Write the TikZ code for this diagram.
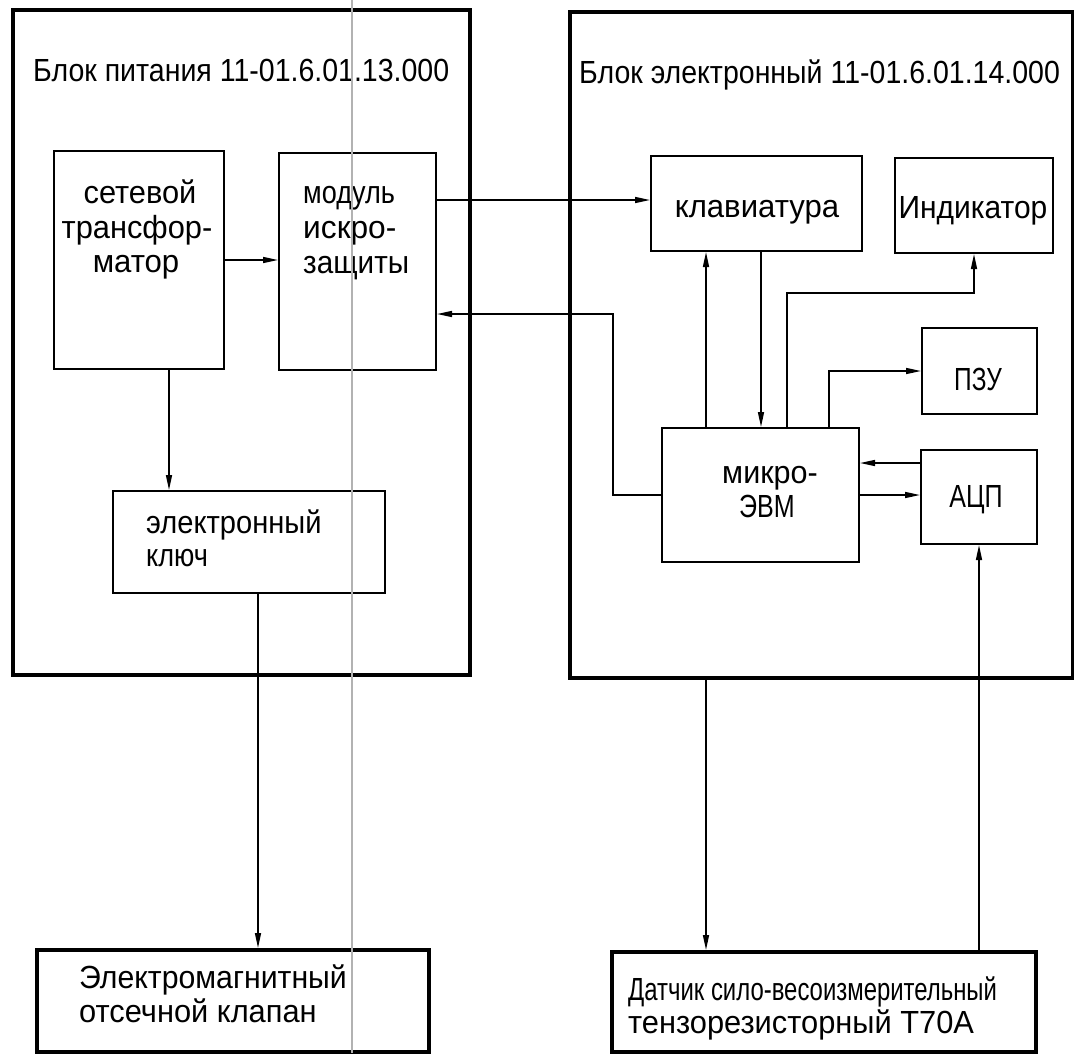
\documentclass[tikz,border=0pt]{standalone}
\usepackage{graphicx}
\usepackage{fontspec}
\setmainfont{Liberation Sans}[FakeStretch=0.9]
\usetikzlibrary{arrows.meta}
\newcommand{\hsc}[2]{\scalebox{#1}[1]{#2}}
\begin{document}
\begin{tikzpicture}[x=1pt,y=-1pt,
  outer/.style={draw, line width=3.5pt, inner sep=0pt, anchor=north west},
  blk/.style={draw, line width=2pt, inner sep=0pt, anchor=north west},
  lbl/.style={inner sep=0pt, anchor=base west, font=\fontsize{32}{38}\selectfont},
  lblc/.style={inner sep=0pt, anchor=base, font=\fontsize{32}{38}\selectfont},
  conn/.style={line width=1.5pt},
  arr/.style={conn, -{Triangle[length=15pt,width=6pt]}},
]
\fill[white] (0,0) rectangle (1074,1053);
\useasboundingbox (0,0) rectangle (1074,1053);

% outer blocks
\node[outer, minimum width=457pt, minimum height=665pt] (lbox) at (11,8) {};
\node[outer, minimum width=503pt, minimum height=666pt] (rbox) at (568,10) {};
\node[outer, minimum width=392pt, minimum height=102pt] (valve) at (35,948) {};
\node[outer, minimum width=424pt, minimum height=100pt] (sens) at (610,950) {};

% inner blocks
\node[blk, minimum width=170pt, minimum height=218pt] (trans) at (53,150) {};
\node[blk, minimum width=157pt, minimum height=217pt] (mod) at (278,152) {};
\node[blk, minimum width=272pt, minimum height=102pt] (key) at (112,490) {};
\node[blk, minimum width=211pt, minimum height=95pt] (kb) at (650,155) {};
\node[blk, minimum width=158pt, minimum height=95pt] (ind) at (894,157) {};
\node[blk, minimum width=115pt, minimum height=86pt] (rom) at (921,327) {};
\node[blk, minimum width=197pt, minimum height=134pt] (mcu) at (661,427) {};
\node[blk, minimum width=116pt, minimum height=94pt] (adc) at (920,449) {};

% texts
\node[lbl] (t1) at (33,81) {\hsc{0.99}{Блок питания 11-01.6.01.13.000}};
\node[lbl] (t2) at (579,83) {\hsc{0.99}{Блок электронный 11-01.6.01.14.000}};
\node[lblc] (tr1) at (140,203) {\hsc{1.07}{сетевой}};
\node[lblc] (tr2) at (137,238) {\hsc{1.07}{трансфор-}};
\node[lblc] (tr3) at (136,272) {\hsc{1.08}{матор}};
\node[lbl] (md1) at (303,203) {\hsc{0.94}{модуль}};
\node[lbl] (md2) at (303,238) {\hsc{1.10}{искро-}};
\node[lbl] (md3) at (303,273) {\hsc{1.03}{защиты}};
\node[lbl] (ky1) at (146,533) {\hsc{1.01}{электронный}};
\node[lbl] (ky2) at (146,566) {\hsc{0.94}{ключ}};
\node[lblc] (kbt) at (757,217) {\hsc{1.08}{клавиатура}};
\node[lblc] (indt) at (973,218) {\hsc{1.04}{Индикатор}};
\node[lblc] (romt) at (978,390) {\hsc{0.85}{ПЗУ}};
\node[lblc] (mc1) at (770,483) {\hsc{1.06}{микро-}};
\node[lblc] (mc2) at (767,517) {\hsc{0.87}{ЭВМ}};
\node[lblc] (adct) at (976,507) {\hsc{0.87}{АЦП}};
\node[lbl] (vl1) at (79,988) {\hsc{1.05}{Электромагнитный}};
\node[lbl] (vl2) at (79,1022) {\hsc{1.07}{отсечной клапан}};
\node[lbl] (sn1) at (628,1000) {\hsc{0.83}{Датчик сило-весоизмерительный}};
\node[lbl] (sn2) at (628,1033) {\hsc{1.07}{тензорезисторный Т70А}};

% helper coordinates
\coordinate (m1) at ([yshift=-48pt]mod.north east);
\coordinate (r1) at ([yshift=-162pt]mod.north east);
\coordinate (a1) at ([yshift=-14pt]adc.north west);
\coordinate (s1) at ([xshift=138pt]rbox.south west);

% connectors
\draw[arr] (trans.east) -- (trans.east -| mod.west);
\draw[arr] ([xshift=116pt]trans.south west) -- ([xshift=57pt]key.north west);
\draw[arr] ([xshift=146pt]key.south west) -- ([xshift=223pt]valve.north west);
\draw[arr] (m1) -- (m1 -| kb.west);
\draw[arr] (mcu.west) -- ++(-48,0) |- (r1);
\draw[arr] ([xshift=45pt]mcu.north west) -- ([xshift=56pt]kb.south west);
\draw[arr] ([xshift=111pt]kb.south west) -- ([xshift=100pt]mcu.north west);
\draw[arr] ([xshift=126pt]mcu.north west) -- ++(0,-134) -| (ind.south);
\draw[arr] ([xshift=168pt]mcu.north west) |- (rom.west);
\draw[arr] (a1) -- (a1 -| mcu.east);
\draw[arr] (mcu.east) -- (mcu.east -| adc.west);
\draw[arr] (s1) -- (s1 |- sens.north);
\draw[arr] (adc.south |- sens.north) -- (adc.south);

% scan fold line
\draw[line width=1.5pt, color=black!30] (352,0) -- (352,1053);
\end{tikzpicture}
\end{document}
